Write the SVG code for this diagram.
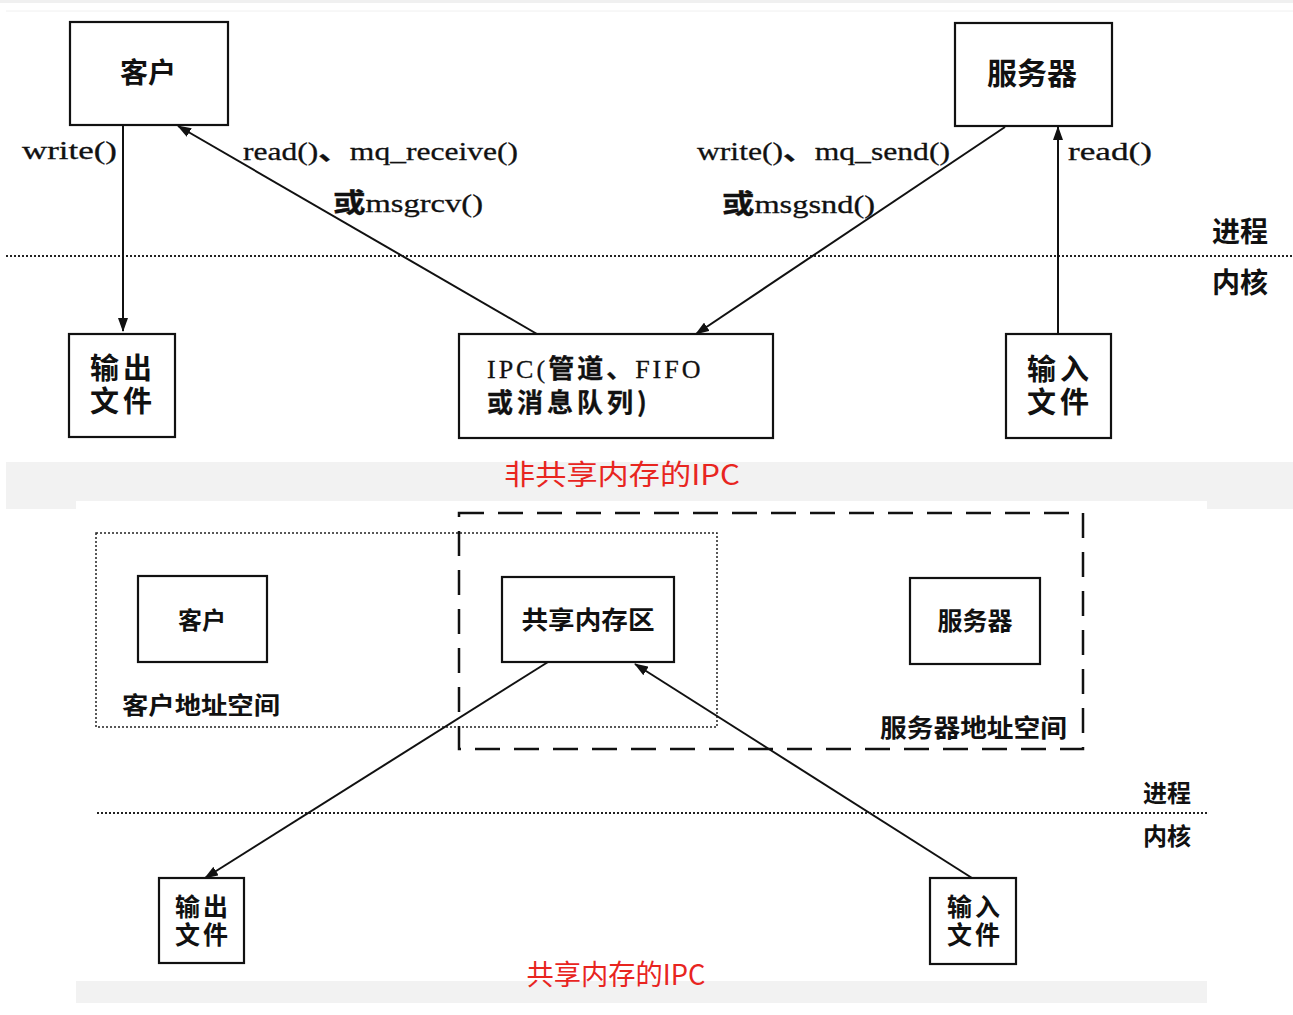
<svg xmlns="http://www.w3.org/2000/svg" width="1293" height="1015" viewBox="0 0 1293 1015">
<style>
.box{fill:#fff;stroke:#111;stroke-width:2.2}
.cn{font-family:"Noto Sans CJK SC","Noto Sans",sans-serif;font-weight:700;fill:#111}
.cb{font-family:"Liberation Sans","Noto Sans CJK SC",sans-serif;font-weight:700;fill:#111}
.lat{font-family:"Liberation Serif","Noto Sans CJK SC",serif;fill:#111;font-size:26px;stroke:#111;stroke-width:0.3}
.red{font-family:"Noto Sans CJK SC","Noto Sans",sans-serif;fill:#e8251f;font-size:28px}
.ln{stroke:#111;stroke-width:2;fill:none}
</style>
<defs>
<marker id="ah" markerWidth="14" markerHeight="10" refX="13" refY="5" orient="auto" markerUnits="userSpaceOnUse">
<path d="M0,0 L14,5 L0,10 Z" fill="#111"/>
</marker>
</defs>
<rect x="0" y="0" width="1293" height="1015" fill="#fff"/>
<rect x="0" y="0" width="1293" height="3" fill="#f0f0f0"/>
<line x1="6" y1="11" x2="1293" y2="11" stroke="#f0f0f0" stroke-width="1"/>
<rect x="6" y="462" width="1287" height="47" fill="#f2f2f2"/>
<rect x="76" y="501" width="1131" height="480" fill="#fff"/>
<rect x="76" y="981" width="1131" height="22" fill="#f2f2f2"/>

<!-- Top diagram -->
<g id="top-divider">
<line x1="6" y1="256" x2="1293" y2="256" stroke="#222" stroke-width="2" stroke-dasharray="2,2"/>
<text class="cn" x="1240" y="242" font-size="28" text-anchor="middle">进程</text>
<text class="cn" x="1240" y="293" font-size="28" text-anchor="middle">内核</text>
</g>
<g id="client-top">
<rect class="box" x="70" y="22" width="158" height="103"/>
<text class="cn" x="148" y="83" font-size="28" text-anchor="middle">客户</text>
</g>
<g id="server-top">
<rect class="box" x="955" y="23" width="157" height="103"/>
<text class="cn" x="1032" y="84" font-size="30" text-anchor="middle">服务器</text>
</g>
<g id="outfile-top">
<rect class="box" x="69" y="334" width="106" height="103"/>
<text class="cb" font-size="29" letter-spacing="4"><tspan x="90" y="379">输出</tspan><tspan x="90" dy="33">文件</tspan></text>
</g>
<g id="ipc">
<rect class="box" x="459" y="334" width="314" height="104"/>
<text class="lat" font-size="28"><tspan x="487" y="378" letter-spacing="3">IPC(<tspan class="cn">管道、</tspan>FIFO</tspan><tspan class="cn" x="487" dy="34" letter-spacing="4">或消息队列)</tspan></text>
</g>
<g id="infile-top">
<rect class="box" x="1006" y="334" width="105" height="104"/>
<text class="cb" font-size="29" letter-spacing="4"><tspan x="1027" y="380">输入</tspan><tspan x="1027" dy="33">文件</tspan></text>
</g>

<g id="connectors-top">
<line class="ln" x1="123" y1="126" x2="123" y2="331" marker-end="url(#ah)"/>
<line class="ln" x1="537" y1="334" x2="178" y2="126" marker-end="url(#ah)"/>
<line class="ln" x1="1005" y1="127" x2="696" y2="334" marker-end="url(#ah)"/>
<line class="ln" x1="1058" y1="334" x2="1058" y2="127" marker-end="url(#ah)"/>
<text class="lat" x="22" y="159" textLength="95" lengthAdjust="spacingAndGlyphs">write()</text>
<text class="lat" x="243" y="160" textLength="275" lengthAdjust="spacingAndGlyphs">read()<tspan class="cn">、</tspan>mq_receive()</text>
<text class="lat" x="333" y="212" textLength="150" lengthAdjust="spacingAndGlyphs"><tspan class="cn">或</tspan>msgrcv()</text>
<text class="lat" x="697" y="160" textLength="253" lengthAdjust="spacingAndGlyphs">write()<tspan class="cn">、</tspan>mq_send()</text>
<text class="lat" x="722" y="213" textLength="153" lengthAdjust="spacingAndGlyphs"><tspan class="cn">或</tspan>msgsnd()</text>
<text class="lat" x="1068" y="160" textLength="84" lengthAdjust="spacingAndGlyphs">read()</text>
</g>

<text class="red" x="622" y="485" font-size="30" text-anchor="middle" textLength="236" lengthAdjust="spacingAndGlyphs">非共享内存的IPC</text>

<!-- Bottom diagram -->
<g id="client-space">
<rect x="96" y="533" width="621" height="194" fill="none" stroke="#222" stroke-width="1.5" stroke-dasharray="2,2"/>
<text class="cn" x="122" y="714" font-size="24" textLength="158" lengthAdjust="spacingAndGlyphs">客户地址空间</text>
</g>
<g id="server-space">
<rect x="459" y="513" width="624" height="236" fill="none" stroke="#111" stroke-width="2.5" stroke-dasharray="25,14"/>
<text class="cn" x="880" y="737" font-size="25" textLength="187" lengthAdjust="spacingAndGlyphs">服务器地址空间</text>
</g>
<g id="client-bottom">
<rect class="box" x="138" y="576" width="129" height="86"/>
<text class="cn" x="202" y="629" font-size="24" text-anchor="middle">客户</text>
</g>
<g id="shm">
<rect class="box" x="502" y="577" width="172" height="85"/>
<text class="cn" x="588" y="629" font-size="25" text-anchor="middle" textLength="133" lengthAdjust="spacingAndGlyphs">共享内存区</text>
</g>
<g id="server-bottom">
<rect class="box" x="910" y="578" width="130" height="86"/>
<text class="cn" x="975" y="630" font-size="25" text-anchor="middle">服务器</text>
</g>
<g id="bottom-divider">
<line x1="97" y1="813" x2="1207" y2="813" stroke="#222" stroke-width="2" stroke-dasharray="2,2"/>
<text class="cn" x="1167" y="802" font-size="24" text-anchor="middle">进程</text>
<text class="cn" x="1167" y="845" font-size="24" text-anchor="middle">内核</text>
</g>
<g id="outfile-bottom">
<rect class="box" x="159" y="878" width="85" height="85"/>
<text class="cb" font-size="25" letter-spacing="3"><tspan x="175" y="916">输出</tspan><tspan x="175" dy="28">文件</tspan></text>
</g>
<g id="infile-bottom">
<rect class="box" x="930" y="878" width="86" height="86"/>
<text class="cb" font-size="25" letter-spacing="3"><tspan x="947" y="916">输入</tspan><tspan x="947" dy="28">文件</tspan></text>
</g>
<g id="connectors-bottom">
<line class="ln" x1="548" y1="662" x2="205" y2="878" marker-end="url(#ah)"/>
<line class="ln" x1="972" y1="878" x2="635" y2="664" marker-end="url(#ah)"/>
</g>

<text class="red" x="616" y="985" font-size="28" text-anchor="middle" textLength="179" lengthAdjust="spacingAndGlyphs">共享内存的IPC</text>
</svg>
